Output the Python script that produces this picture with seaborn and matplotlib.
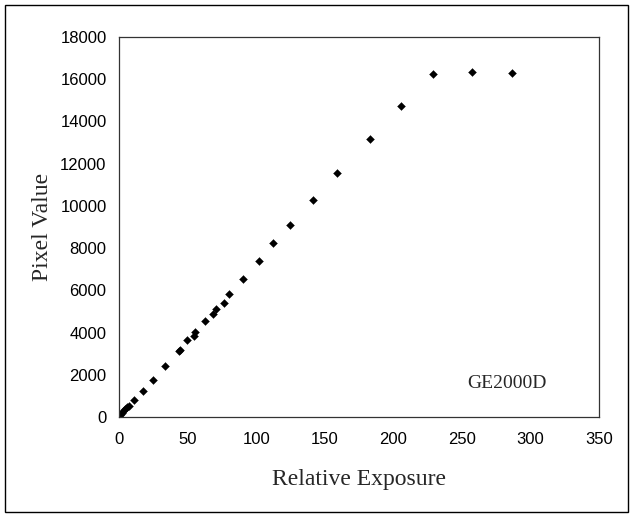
import matplotlib
matplotlib.use("Agg")
import matplotlib.pyplot as plt
import seaborn as sns
import pandas as pd
from matplotlib.patches import Rectangle

exposure = [0.9, 2.0, 3.2, 4.4, 5.6, 7.1, 10.7, 17.3, 24.6, 33.8, 43.6, 44.6,
            49.7, 54.8, 55.3, 62.6, 68.2, 70.4, 76.2, 79.9, 90.1, 101.8,
            112.5, 125.0, 141.8, 159.3, 182.7, 205.3, 228.9, 257.4, 286.2]
pixel = [109, 189, 270, 365, 459, 535, 791, 1246, 1753, 2430, 3112, 3174,
         3633, 3837, 4027, 4533, 4865, 5131, 5415, 5812, 6552, 7390,
         8243, 9095, 10280, 11558, 13169, 14733, 16234, 16329, 16310]

xticks = [0, 50, 100, 150, 200, 250, 300, 350]
yticks = [0, 2000, 4000, 6000, 8000, 10000, 12000, 14000, 16000, 18000]

df = pd.DataFrame({"Relative Exposure": exposure, "Pixel Value": pixel})

sns.set_style("white")
plt.rcParams["font.family"] = ["Liberation Sans Narrow", "Liberation Sans", "DejaVu Sans"]

fig = plt.figure(figsize=(6.32, 5.14), dpi=100)
ax = fig.add_axes([119 / 632, 1 - 417 / 514, (599 - 119) / 632, (417 - 37) / 514])

sns.scatterplot(data=df, x="Relative Exposure", y="Pixel Value", ax=ax,
                marker="D", s=16, color="black", edgecolor="black", linewidth=0.3)

ax.set_xlim(0, 350)
ax.set_ylim(0, 18000)
ax.set_xticks(xticks)
ax.set_yticks(yticks)
ax.tick_params(direction="in", length=4, width=0.8, labelsize=12,
               color="black", labelcolor="black")
ax.tick_params(axis="y", pad=9)
ax.tick_params(axis="x", pad=11)
for sp in ax.spines.values():
    sp.set_color("#333333")
    sp.set_linewidth(0.9)

serif = ["Liberation Serif", "DejaVu Serif"]
ax.set_xlabel("Relative Exposure", fontsize=17, family=serif, labelpad=16)
ax.set_ylabel("Pixel Value", fontsize=17, family=serif, labelpad=5)

ax.text(0.89, 0.088, "GE2000D", transform=ax.transAxes, ha="right", va="center",
        fontsize=14, family=serif)

fig.patches.append(Rectangle((5 / 632, 2 / 514), 623 / 632, 507 / 514,
                             transform=fig.transFigure, fill=False,
                             edgecolor="black", linewidth=1.0))

fig.savefig("out.png", dpi=100)
